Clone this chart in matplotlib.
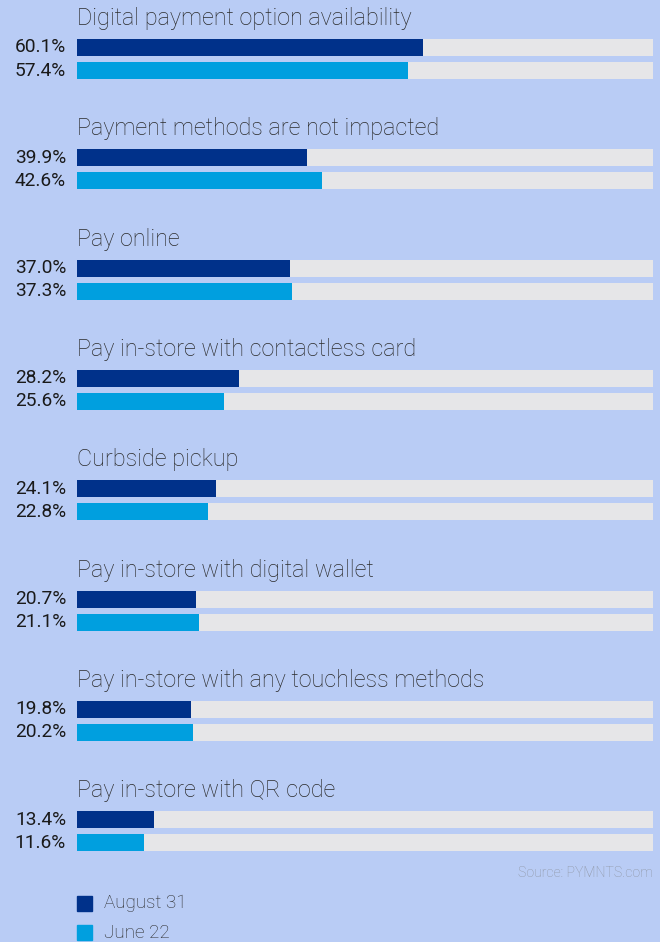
import matplotlib
matplotlib.use("Agg")
import matplotlib.pyplot as plt
from matplotlib.patches import Rectangle

categories = [
    "Digital payment option availability",
    "Payment methods are not impacted",
    "Pay online",
    "Pay in-store with contactless card",
    "Curbside pickup",
    "Pay in-store with digital wallet",
    "Pay in-store with any touchless methods",
    "Pay in-store with QR code",
]
aug31 = [60.1, 39.9, 37.0, 28.2, 24.1, 20.7, 19.8, 13.4]
jun22 = [57.4, 42.6, 37.3, 25.6, 22.8, 21.1, 20.2, 11.6]
series_names = ["August 31", "June 22"]

BG = "#B9CCF5"
DARK = "#00318A"
LIGHT = "#009FDF"
TRACK = "#E6E6E8"
TXT = "#2B2B2B"

plt.rcParams['font.family'] = ['Roboto', 'DejaVu Sans']

W, H = 660, 942
fig = plt.figure(figsize=(W / 100, H / 100), dpi=100)
fig.patch.set_facecolor(BG)

x0, x1 = 77, 653
ax = fig.add_axes([x0 / W, 0, (x1 - x0) / W, 1])
ax.set_xlim(0, 100)
ax.set_ylim(H, 0)
ax.axis("off")

step = 110.3
bh = 17
for i, (cat, a, j) in enumerate(zip(categories, aug31, jun22)):
    yd = 47.5 + step * i
    yl = 70.5 + step * i
    ax.barh([yd, yl], [100, 100], height=bh, color=TRACK, left=0)
    ax.barh(yd, a, height=bh, color=DARK)
    ax.barh(yl, j, height=bh, color=LIGHT)
    ax.text(0, 18.5 + step * i, cat, fontsize=16.8, fontweight="light", color=TXT, va="center", ha="left")
    ax.text(-1.9, yd, f"{a:.1f}%", fontsize=13.8, color="#1A1A1A", va="center", ha="right")
    ax.text(-1.9, yl, f"{j:.1f}%", fontsize=13.8, color="#1A1A1A", va="center", ha="right")

ax.text(100, 873, "Source: PYMNTS.com", fontsize=10.2, fontweight="light", color="#8E95A3", va="center", ha="right")

for k, (name, col) in enumerate(zip(series_names, [DARK, LIGHT])):
    yc = 903.5 + 29 * k
    sq = 15 / 576 * 100
    ax.add_patch(Rectangle((0, yc - 7.5), sq, 15, color=col, clip_on=False))
    ax.text((104 - x0) / 576 * 100, yc, name, fontsize=13.6, fontweight="light", color=TXT, va="center", ha="left")

fig.savefig("out.png", dpi=100, facecolor=BG)
